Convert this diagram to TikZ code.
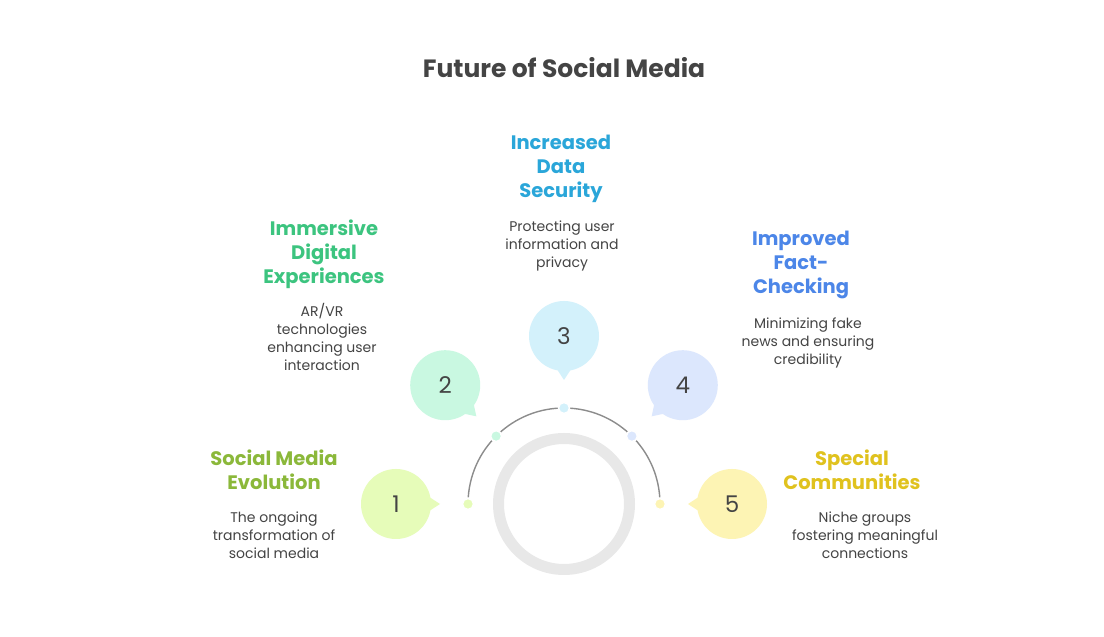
\documentclass[tikz,border=0pt]{standalone}
\usepackage{fontspec}
\setmainfont{Poppins}
\usetikzlibrary{calc,positioning}

\definecolor{ink}{HTML}{444444}
\definecolor{track}{HTML}{8C8C8C}
\definecolor{ringgray}{HTML}{E8E8E8}
\definecolor{fillA}{HTML}{E6FCB9}
\definecolor{fillB}{HTML}{C9F8E1}
\definecolor{fillC}{HTML}{D3F1FB}
\definecolor{fillD}{HTML}{DCE7FD}
\definecolor{fillE}{HTML}{FDF4B4}
\definecolor{headA}{HTML}{8BB83A}
\definecolor{headB}{HTML}{3CC47F}
\definecolor{headC}{HTML}{2AA6D9}
\definecolor{headD}{HTML}{4C86E8}
\definecolor{headE}{HTML}{E0C21E}

\begin{document}
\begin{tikzpicture}[
  x=1pt, y=1pt,
  bubble/.style={circle, minimum size=70pt, inner sep=0pt, text=ink, font=\fontsize{23}{26}\selectfont},
  dot/.style={circle, minimum size=11pt, inner sep=0pt, draw=white, line width=1.5pt},
  head/.style={align=center, font=\fontsize{19.5}{24}\selectfont\bfseries},
  desc/.style={align=center, text=ink, font=\fontsize{14}{18}\selectfont},
  ring/.style={circle, minimum size=131pt, inner sep=0pt, draw=ringgray, line width=11pt},
  arcline/.style={draw=track, line width=1.4pt}
]
\fill[white] (0,0) rectangle (1104,637);
\useasboundingbox (0,0) rectangle (1104,637);

\node[font=\fontsize{25}{28}\selectfont\bfseries, text=ink] (title) at (564,569) {Future of Social Media};

% centre ring and track
\node[ring] (hub) at (564,133) {};
\draw[arcline] ($(hub)+(176:96pt)$) arc[start angle=176, end angle=4, radius=96pt];

\node[dot, fill=fillA] (d1) at ($(hub)+(180:96pt)$) {};
\node[dot, fill=fillB] (d2) at ($(hub)+(135:96pt)$) {};
\node[dot, fill=fillC] (d3) at ($(hub)+(90:96pt)$) {};
\node[dot, fill=fillD] (d4) at ($(hub)+(45:96pt)$) {};
\node[dot, fill=fillE] (d5) at ($(hub)+(0:96pt)$) {};

% speech bubbles
\coordinate (b1c) at ($(hub)+(180:168pt)$);
\coordinate (b2c) at ($(hub)+(135:168pt)$);
\coordinate (b3c) at ($(hub)+(90:168pt)$);
\coordinate (b4c) at ($(hub)+(45:168pt)$);
\coordinate (b5c) at ($(hub)+(0:168pt)$);
\fill[fillA] ($(b1c)!30pt!20:(hub)$) -- ($(b1c)!44pt!(hub)$) -- ($(b1c)!30pt!-20:(hub)$) -- cycle;
\fill[fillB] ($(b2c)!30pt!20:(hub)$) -- ($(b2c)!44pt!(hub)$) -- ($(b2c)!30pt!-20:(hub)$) -- cycle;
\fill[fillC] ($(b3c)!30pt!20:(hub)$) -- ($(b3c)!44pt!(hub)$) -- ($(b3c)!30pt!-20:(hub)$) -- cycle;
\fill[fillD] ($(b4c)!30pt!20:(hub)$) -- ($(b4c)!44pt!(hub)$) -- ($(b4c)!30pt!-20:(hub)$) -- cycle;
\fill[fillE] ($(b5c)!30pt!20:(hub)$) -- ($(b5c)!44pt!(hub)$) -- ($(b5c)!30pt!-20:(hub)$) -- cycle;
\node[bubble, fill=fillA] (b1) at (b1c) {1};
\node[bubble, fill=fillB] (b2) at (b2c) {2};
\node[bubble, fill=fillC] (b3) at (b3c) {3};
\node[bubble, fill=fillD] (b4) at (b4c) {4};
\node[bubble, fill=fillE] (b5) at (b5c) {5};

% labels
\node[head, text=headA] (h1) at (274,167.5) {Social Media\\Evolution};
\node[desc] (t1) at (274,102) {The ongoing\\transformation of\\social media};
\node[head, text=headB] (h2) at (324,383) {Immersive\\Digital\\Experiences};
\node[desc] (t2) at (322,300) {AR/VR\\technologies\\enhancing user\\interaction};
\node[head, text=headC] (h3) at (561,468) {Increased\\Data\\Security};
\node[desc] (t3) at (562,391) {Protecting user\\information and\\privacy};
\node[head, text=headD] (h4) at (801,372) {Improved\\Fact-\\Checking};
\node[desc] (t4) at (808,294) {Minimizing fake\\news and ensuring\\credibility};
\node[head, text=headE] (h5) at (852,167.5) {Special\\Communities};
\node[desc] (t5) at (865,102) {Niche groups\\fostering meaningful\\connections};
\end{tikzpicture}
\end{document}
